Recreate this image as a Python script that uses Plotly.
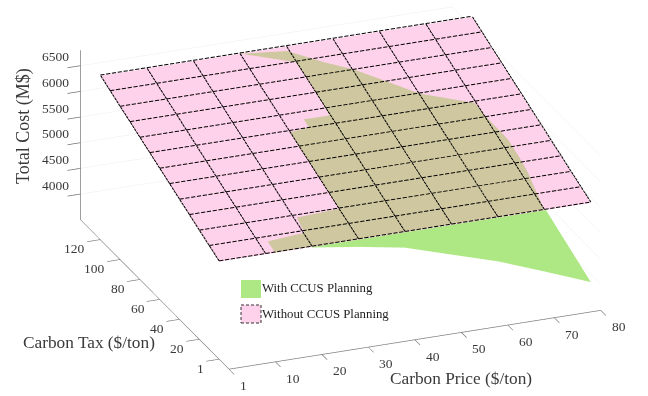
import numpy as np
import plotly.graph_objects as go

W, H = 648, 396
FONT = "Liberation Serif"
INK = "#3a3a3a"

carbon_price = [0, 10, 20, 30, 40, 50, 60, 70, 80]
carbon_tax = [0, 10, 20, 30, 40, 50, 60, 70, 80, 90, 100, 110, 120]
cost_without_by_tax = [5400, 5505, 5610, 5720, 5825, 5935, 6040, 6150, 6255, 6365, 6470, 6580, 6690]

green_price = [20, 30, 40, 50, 60, 70, 80]
green_tax = [0, 50]
green_cost_tax0 = [5390, 5259, 5100, 4822, 4547, 4207, 3856]
green_cost_tax50 = [5900, 5790, 5650, 5400, 5120, 4780, 4435]

overlap_price = [30.2, 39.6, 45.4, 50.3, 60.2, 69.7, 70.4, 71.7, 71.7, 71.5, 70, 12, 12, 20.3, 20.7,
                 30.1, 30.1, 30, 30, 34.3, 34.3, 39.8, 40.1, 40.2, 39.8]
overlap_tax = [119.7, 117, 107.1, 100.2, 79.8, 69.3, 58.6, 44.9, 35.2, 24.3, 0.4, 0, 7.2, 8.9, 18.6,
               19.8, 37.9, 57.4, 69.1, 70.3, 75.5, 75.4, 88.3, 99.9, 109.8]

x_ticks = [0, 10, 20, 30, 40, 50, 60, 70, 80]
x_labels = ["1", "10", "20", "30", "40", "50", "60", "70", "80"]
y_ticks = [0, 20, 40, 60, 80, 100, 120]
y_labels = ["1", "20", "40", "60", "80", "100", "120"]
z_ticks = [4000, 4500, 5000, 5500, 6000, 6500]
x_range = [0, 80]
y_range = [-10, 140]
z_range = [3500, 6800]

PINK, TAN, GREEN = "#FFD2EC", "#CFC79F", "#AEE884"
FLAT = dict(ambient=1, diffuse=0, specular=0, fresnel=0, roughness=1)


def without(t):
    return np.interp(t, carbon_tax, cost_without_by_tax)


def ear_clip(px, py):
    idx = list(range(len(px)))
    area = sum(px[a] * py[(a + 1) % len(px)] - px[(a + 1) % len(px)] * py[a] for a in idx)
    sign = 1 if area > 0 else -1
    tris = []

    def cross(a, b, c):
        return (px[b] - px[a]) * (py[c] - py[a]) - (py[b] - py[a]) * (px[c] - px[a])

    while len(idx) > 3:
        for n in range(len(idx)):
            a, b, c = idx[n - 1], idx[n], idx[(n + 1) % len(idx)]
            if sign * cross(a, b, c) <= 0:
                continue
            if any(p not in (a, b, c) and sign * cross(a, b, p) >= 0 and sign * cross(b, c, p) >= 0
                   and sign * cross(c, a, p) >= 0 for p in idx):
                continue
            tris.append((a, b, c))
            idx.pop(n)
            break
        else:
            break
    if len(idx) == 3:
        tris.append(tuple(idx))
    return tris


def dashed(x0, y0, x1, y1, n, on=0.72):
    """Break one grid edge into n short dashes."""
    xs, ys, zs = [], [], []
    for s in np.arange(n) / n:
        for f in (s, s + on / n):
            px, py = x0 + (x1 - x0) * f, y0 + (y1 - y0) * f
            xs.append(float(px))
            ys.append(float(py))
            zs.append(float(without(py)) + 16)
        xs.append(None)
        ys.append(None)
        zs.append(None)
    return xs, ys, zs


Zp = np.tile(np.array(cost_without_by_tax, float)[:, None], (1, len(carbon_price)))
Zg = np.array([green_cost_tax0, green_cost_tax50], float)

fig = go.Figure()
fig.add_trace(go.Surface(x=green_price, y=green_tax, z=Zg, showscale=False, name="With CCUS Planning",
                         colorscale=[[0, GREEN], [1, GREEN]], lighting=FLAT, hoverinfo="skip"))
fig.add_trace(go.Surface(x=carbon_price, y=carbon_tax, z=Zp, showscale=False, name="Without CCUS Planning",
                         colorscale=[[0, PINK], [1, PINK]], lighting=FLAT, hoverinfo="skip"))

tri = ear_clip(overlap_price, overlap_tax)
fig.add_trace(go.Mesh3d(x=overlap_price, y=overlap_tax, z=without(np.array(overlap_tax)) + 8,
                        i=[t[0] for t in tri], j=[t[1] for t in tri], k=[t[2] for t in tri],
                        color=TAN, flatshading=True, lighting=FLAT, hoverinfo="skip"))

lx, ly, lz = [], [], []
for t in carbon_tax:
    a, b, c = dashed(carbon_price[0], t, carbon_price[-1], t, 64, 0.72)
    lx += a; ly += b; lz += c
for p in carbon_price:
    a, b, c = dashed(p, carbon_tax[0], p, carbon_tax[-1], 60, 0.8)
    lx += a; ly += b; lz += c
fig.add_trace(go.Scatter3d(x=lx, y=ly, z=lz, mode="lines", hoverinfo="skip", showlegend=False,
                           line=dict(color="#000000", width=2)))
fig.add_trace(go.Scatter3d(x=[x_range[0]] * 2, y=[y_range[1]] * 2, z=z_range, mode="lines", hoverinfo="skip",
                           showlegend=False, line=dict(color="#808080", width=1.5)))


def axis(**kw):
    return dict(showbackground=False, showline=True, linecolor="#808080", linewidth=1.5, zeroline=False,
                showspikes=False, ticks="outside", ticklen=14, tickcolor="#707070", tickwidth=1.5,
                showticklabels=False, title=dict(text=""), **kw)


tick_font = dict(family=FONT, size=13.5, color=INK)
scene_notes = []
for v, s in zip(x_ticks, x_labels):
    scene_notes.append(dict(x=v, y=y_range[0], z=z_range[0], text=s, xanchor="left", yanchor="middle",
                            xshift=9, yshift=-16.5))
for v, s in zip(y_ticks, y_labels):
    scene_notes.append(dict(x=x_range[0], y=v, z=z_range[0], text=s, xanchor="right", yanchor="middle",
                            xshift=-13, yshift=-9))
for v in z_ticks:
    scene_notes.append(dict(x=x_range[0], y=y_range[1], z=v, text=str(v), xanchor="right", yanchor="middle",
                            xshift=-9, yshift=9))
for n in scene_notes:
    n.update(showarrow=False, font=tick_font)

cx, cy, cz = -0.092, -0.004, -0.081
fig.update_layout(
    width=W, height=H, margin=dict(l=0, r=0, t=0, b=0), paper_bgcolor="white", showlegend=False,
    font=dict(family=FONT, color=INK),
    scene=dict(
        domain=dict(x=[0, 1], y=[0, 1]),
        aspectmode="manual", aspectratio=dict(x=2.02, y=2.035, z=0.933),
        xaxis=axis(range=x_range, tickvals=x_ticks, showgrid=False),
        yaxis=axis(range=y_range, tickvals=y_ticks, showgrid=False),
        zaxis=axis(range=z_range, tickvals=z_ticks, showgrid=True, gridcolor="#eeeeee", gridwidth=1),
        camera=dict(projection=dict(type="orthographic"), up=dict(x=0, y=0, z=1), center=dict(x=cx, y=cy, z=cz),
                    eye=dict(x=cx - 0.674, y=cy - 1.70, z=cz + 0.796)),
        annotations=scene_notes,
    ),
    annotations=[
        dict(text="Total Cost (M$)", x=24 / W, y=1 - 126 / H, textangle=-90, font=dict(size=18)),
        dict(text="Carbon Tax ($/ton)", x=89 / W, y=1 - 342 / H, font=dict(size=17.3)),
        dict(text="Carbon Price ($/ton)", x=461 / W, y=1 - 378 / H, font=dict(size=17.3)),
        dict(text="With CCUS Planning", x=260 / W, y=1 - 288 / H, xanchor="left", font=dict(size=12.8, color="#222222")),
        dict(text="Without CCUS Planning", x=260 / W, y=1 - 314 / H, xanchor="left", font=dict(size=12.8, color="#222222")),
    ],
    shapes=[
        dict(type="rect", xref="paper", yref="paper", x0=241 / W, x1=261 / W, y0=1 - 298 / H, y1=1 - 280 / H,
             fillcolor=GREEN, line=dict(width=0)),
        dict(type="rect", xref="paper", yref="paper", x0=241 / W, x1=261 / W, y0=1 - 323 / H, y1=1 - 305 / H,
             fillcolor=PINK, line=dict(color="#333333", width=1, dash="3px,2px")),
    ],
)
for a in fig.layout.annotations:
    a.update(xref="paper", yref="paper", showarrow=False, yanchor="middle")
    if a.xanchor is None:
        a.update(xanchor="center")

fig.write_html("out.html", config={"displayModeBar": False},
               post_script="document.body.style.margin='0';document.documentElement.style.overflow='hidden';")
